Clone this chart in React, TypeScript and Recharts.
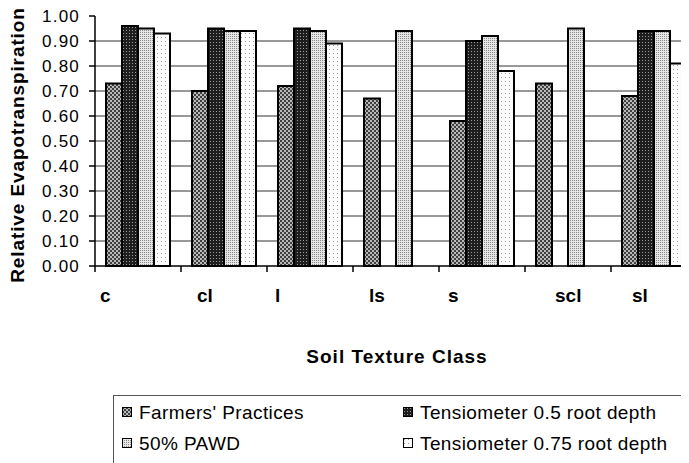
import { BarChart, Bar, XAxis, YAxis, CartesianGrid } from "recharts";

const categories = ["c", "cl", "l", "ls", "s", "scl", "sl"];
const farmers = [0.73, 0.7, 0.72, 0.67, 0.58, 0.73, 0.68];
const tens05 = [0.96, 0.95, 0.95, null, 0.9, null, 0.94];
const pawd = [0.95, 0.94, 0.94, 0.94, 0.92, 0.95, 0.94];
const tens075 = [0.93, 0.94, 0.89, null, 0.78, null, 0.81];
const yTicks = [0, 0.1, 0.2, 0.3, 0.4, 0.5, 0.6, 0.7, 0.8, 0.9, 1.0];
const gridTicks = [0.1, 0.2, 0.3, 0.4, 0.5, 0.6, 0.7, 0.8, 0.9];

const series = [
  { key: "fp", name: "Farmers' Practices", fill: "url(#pFP)" },
  { key: "t05", name: "Tensiometer 0.5 root depth", fill: "url(#pT05)" },
  { key: "pawd", name: "50% PAWD", fill: "url(#pPAWD)" },
  { key: "t075", name: "Tensiometer 0.75 root depth", fill: "url(#pT075)" },
];

const data = categories.map((c, i) => ({
  cat: c,
  fp: farmers[i],
  t05: tens05[i],
  pawd: pawd[i],
  t075: tens075[i],
}));

const CHART_W = 689;
const CHART_H = 298;
const MARGIN = { top: 8, right: 0, left: 27, bottom: 0 };
const Y_W = 60;
const BAND = (CHART_W - MARGIN.left - Y_W - MARGIN.right) / categories.length;
// labels in the original sit oddly inside each band
const LABEL_DX = [5, 16, 8, 16, 9, 30, 21];
const FONT = "'Liberation Sans', Arial, sans-serif";

function XTick(props: any) {
  const { x, y, payload, index } = props;
  const left = x - BAND / 2;
  return (
    <g>
      <line x1={left} y1={y} x2={left} y2={y + 6} stroke="#000" strokeWidth={1.5} />
      <text
        x={left + LABEL_DX[index]}
        y={y + 36}
        textAnchor="start"
        fontFamily={FONT}
        fontSize={19}
        fontWeight="bold"
        fill="#000"
      >
        {payload.value}
      </text>
    </g>
  );
}

function YLabel() {
  return (
    <text
      x={16}
      y={137}
      transform="rotate(-90, 16, 137)"
      textAnchor="middle"
      fontFamily={FONT}
      fontSize={19}
      fontWeight="bold"
      letterSpacing={0.9}
      fill="#000"
    >
      Relative Evapotranspiration
    </text>
  );
}

function Swatch({ fill }: { fill: string }) {
  return (
    <svg width={10} height={10} style={{ display: "block" }}>
      <rect x={0.5} y={0.5} width={9} height={9} fill={fill} stroke="#000" strokeWidth={1} />
    </svg>
  );
}

const legendPos = [
  { left: 8, top: 6 },
  { left: 289, top: 6 },
  { left: 8, top: 37 },
  { left: 289, top: 37 },
];

export default function App() {
  return (
    <div style={{ position: "relative", width: 681, height: 455, overflow: "hidden", fontFamily: FONT }}>
      <BarChart
        width={CHART_W}
        height={CHART_H}
        data={data}
        margin={MARGIN}
        barCategoryGap={11}
        barGap={0}
      >
        <defs>
          <pattern id="pFP" width="4" height="4" patternUnits="userSpaceOnUse">
            <rect width="4" height="4" fill="#b8b8b8" />
            <rect x="0" y="0" width="2" height="2" fill="#404040" />
            <rect x="2" y="2" width="2" height="2" fill="#404040" />
          </pattern>
          <pattern id="pT05" width="3" height="3" patternUnits="userSpaceOnUse">
            <rect width="3" height="3" fill="#1e1e1e" />
            <rect x="1" y="1" width="1" height="1" fill="#9a9a9a" />
          </pattern>
          <pattern id="pPAWD" width="2" height="2" patternUnits="userSpaceOnUse">
            <rect width="2" height="2" fill="#e6e6e6" />
            <rect x="0" y="0" width="1" height="1" fill="#8a8a8a" />
          </pattern>
          <pattern id="pT075" width="4" height="4" patternUnits="userSpaceOnUse">
            <rect width="4" height="4" fill="#fbfbfb" />
            <rect x="1" y="1" width="1" height="1" fill="#999" />
          </pattern>
        </defs>
        <CartesianGrid vertical={false} stroke="#333" horizontalValues={gridTicks} />
        <XAxis
          dataKey="cat"
          axisLine={{ stroke: "#000", strokeWidth: 1.5 }}
          tickLine={false}
          tickSize={0}
          tickMargin={0}
          height={CHART_H - 258}
          interval={0}
          tick={<XTick />}
        />
        <YAxis
          width={Y_W}
          domain={[0, 1]}
          ticks={yTicks}
          interval={0}
          tickFormatter={(v: number) => v.toFixed(2)}
          axisLine={{ stroke: "#000", strokeWidth: 1.5 }}
          tickLine={{ stroke: "#000", strokeWidth: 1.5 }}
          tickSize={6}
          tickMargin={9}
          tick={{ fontSize: 17, fill: "#000", fontFamily: FONT, letterSpacing: 1.2 }}
          label={<YLabel />}
        />
        {series.map((s) => (
          <Bar
            key={s.key}
            dataKey={s.key}
            name={s.name}
            fill={s.fill}
            stroke="#000"
            strokeWidth={2}
            isAnimationActive={false}
          />
        ))}
      </BarChart>

      <div
        style={{
          position: "absolute",
          left: 389,
          top: 338,
          transform: "translateX(-50%)",
          fontSize: 19,
          fontWeight: "bold",
          letterSpacing: 1,
          whiteSpace: "nowrap",
        }}
      >
        Soil Texture Class
      </div>

      <div
        style={{
          position: "absolute",
          left: 105,
          top: 387,
          width: 572,
          height: 90,
          border: "1px solid #555",
        }}
      >
        {series.map((s, i) => {
          const pos = legendPos[i];
          return (
            <div
              key={s.key}
              style={{
                position: "absolute",
                left: pos.left,
                top: pos.top,
                height: 20,
                display: "flex",
                alignItems: "center",
                gap: 7,
                fontSize: 19,
                letterSpacing: 0.4,
                whiteSpace: "nowrap",
                lineHeight: 1,
              }}
            >
              <Swatch fill={s.fill} />
              <span>{s.name}</span>
            </div>
          );
        })}
      </div>
    </div>
  );
}
